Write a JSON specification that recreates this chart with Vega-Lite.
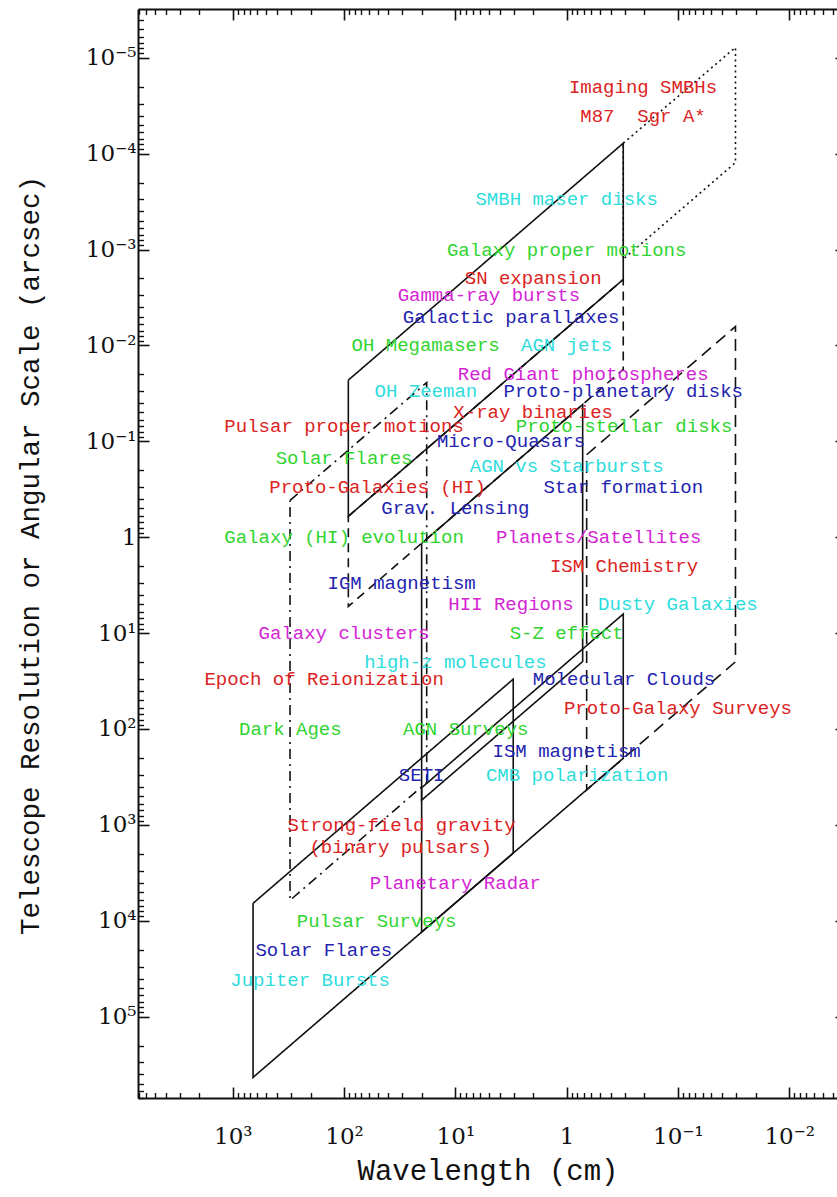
{
  "$schema": "https://vega.github.io/schema/vega-lite/v6.json",
  "width": 699,
  "height": 1089,
  "autosize": {"type": "none"},
  "padding": {"left": 138, "top": 9, "right": 0, "bottom": 99},
  "background": "white",
  "config": {
    "view": {"stroke": null},
    "axis": {"grid": false, "domainColor": "#111", "tickColor": "#111", "labelColor": "#111", "titleColor": "#111"}
  },
  "datasets": {
    "outlines": [
      {"id": "A", "k": 1, "wavelength": 658, "resolution": 6580},
      {"id": "A", "k": 2, "wavelength": 3.02, "resolution": 30.2},
      {"id": "A", "k": 3, "wavelength": 3.02, "resolution": 1970},
      {"id": "A", "k": 4, "wavelength": 658, "resolution": 430000},
      {"id": "A", "k": 5, "wavelength": 658, "resolution": 6580},
      {"id": "B", "k": 1, "wavelength": 20.1, "resolution": 410},
      {"id": "B", "k": 2, "wavelength": 0.31, "resolution": 6.32},
      {"id": "B", "k": 3, "wavelength": 0.31, "resolution": 202},
      {"id": "B", "k": 4, "wavelength": 20.1, "resolution": 13100},
      {"id": "B", "k": 5, "wavelength": 20.1, "resolution": 410},
      {"id": "C", "k": 1, "wavelength": 20.1, "resolution": 1.16},
      {"id": "C", "k": 2, "wavelength": 0.718, "resolution": 0.0413},
      {"id": "C", "k": 3, "wavelength": 0.718, "resolution": 19.8},
      {"id": "C", "k": 4, "wavelength": 20.1, "resolution": 553},
      {"id": "C", "k": 5, "wavelength": 20.1, "resolution": 1.16},
      {"id": "D", "k": 1, "wavelength": 91.6, "resolution": 0.023},
      {"id": "D", "k": 2, "wavelength": 0.31, "resolution": 0.0000778},
      {"id": "D", "k": 3, "wavelength": 0.31, "resolution": 0.00205},
      {"id": "D", "k": 4, "wavelength": 91.6, "resolution": 0.605},
      {"id": "D", "k": 5, "wavelength": 91.6, "resolution": 0.023},
      {"id": "E", "k": 1, "wavelength": 0.31, "resolution": 0.0000778},
      {"id": "E", "k": 2, "wavelength": 0.0304, "resolution": 0.0000078},
      {"id": "E", "k": 3, "wavelength": 0.0304, "resolution": 0.000124},
      {"id": "E", "k": 4, "wavelength": 0.31, "resolution": 0.00126},
      {"id": "E", "k": 5, "wavelength": 0.31, "resolution": 0.0000778},
      {"id": "F", "k": 1, "wavelength": 91.6, "resolution": 0.605},
      {"id": "F", "k": 2, "wavelength": 0.31, "resolution": 0.00205},
      {"id": "F", "k": 3, "wavelength": 0.31, "resolution": 0.0178},
      {"id": "F", "k": 4, "wavelength": 91.6, "resolution": 5.27},
      {"id": "F", "k": 5, "wavelength": 91.6, "resolution": 0.605},
      {"id": "G", "k": 1, "wavelength": 0.661, "resolution": 0.138},
      {"id": "G", "k": 2, "wavelength": 0.0304, "resolution": 0.00635},
      {"id": "G", "k": 3, "wavelength": 0.0304, "resolution": 19.9},
      {"id": "G", "k": 4, "wavelength": 0.661, "resolution": 432},
      {"id": "G", "k": 5, "wavelength": 0.661, "resolution": 0.138},
      {"id": "H", "k": 1, "wavelength": 306, "resolution": 0.413},
      {"id": "H", "k": 2, "wavelength": 18.1, "resolution": 0.0244},
      {"id": "H", "k": 3, "wavelength": 18.1, "resolution": 361},
      {"id": "H", "k": 4, "wavelength": 306, "resolution": 6110},
      {"id": "H", "k": 5, "wavelength": 306, "resolution": 0.413}
    ],
    "topics": [
      {"label": "Imaging SMBHs", "wavelength": 0.206, "resolution": 0.00002, "group": "r"},
      {"label": "M87\u00a0\u00a0Sgr A*", "wavelength": 0.206, "resolution": 0.00004, "group": "r"},
      {"label": "SMBH maser disks", "wavelength": 1, "resolution": 0.0003, "group": "c"},
      {"label": "Galaxy proper motions", "wavelength": 1, "resolution": 0.001, "group": "g"},
      {"label": "SN expansion", "wavelength": 2, "resolution": 0.002, "group": "r"},
      {"label": "Gamma-ray bursts", "wavelength": 5, "resolution": 0.003, "group": "m"},
      {"label": "Galactic parallaxes", "wavelength": 3.16, "resolution": 0.005, "group": "b"},
      {"label": "OH Megamasers", "wavelength": 18.5, "resolution": 0.01, "group": "g"},
      {"label": "AGN jets", "wavelength": 1, "resolution": 0.01, "group": "c"},
      {"label": "Red Giant photospheres", "wavelength": 0.71, "resolution": 0.02, "group": "m"},
      {"label": "OH Zeeman", "wavelength": 18.4, "resolution": 0.03, "group": "c"},
      {"label": "Proto-planetary disks", "wavelength": 0.31, "resolution": 0.03, "group": "b"},
      {"label": "X-ray binaries", "wavelength": 2, "resolution": 0.05, "group": "r"},
      {"label": "Pulsar proper motions", "wavelength": 100, "resolution": 0.07, "group": "r"},
      {"label": "Proto-stellar disks", "wavelength": 0.305, "resolution": 0.07, "group": "g"},
      {"label": "Micro-Quasars", "wavelength": 3.16, "resolution": 0.1, "group": "b"},
      {"label": "Solar Flares", "wavelength": 100, "resolution": 0.15, "group": "g"},
      {"label": "AGN vs Starbursts", "wavelength": 1, "resolution": 0.18, "group": "c"},
      {"label": "Proto-Galaxies (HI)", "wavelength": 50, "resolution": 0.3, "group": "r"},
      {"label": "Star formation", "wavelength": 0.31, "resolution": 0.3, "group": "b"},
      {"label": "Grav. Lensing", "wavelength": 10, "resolution": 0.5, "group": "b"},
      {"label": "Galaxy (HI) evolution", "wavelength": 100, "resolution": 1, "group": "g"},
      {"label": "Planets/Satellites", "wavelength": 0.515, "resolution": 1, "group": "m"},
      {"label": "ISM Chemistry", "wavelength": 0.305, "resolution": 2, "group": "r"},
      {"label": "IGM magnetism", "wavelength": 30.4, "resolution": 3, "group": "b"},
      {"label": "HII Regions", "wavelength": 3.16, "resolution": 5, "group": "m"},
      {"label": "Dusty Galaxies", "wavelength": 0.1, "resolution": 5, "group": "c"},
      {"label": "Galaxy clusters", "wavelength": 100, "resolution": 10, "group": "m"},
      {"label": "S-Z effect", "wavelength": 1, "resolution": 10, "group": "g"},
      {"label": "high-z molecules", "wavelength": 10, "resolution": 20, "group": "c"},
      {"label": "Epoch of Reionization", "wavelength": 151, "resolution": 30, "group": "r"},
      {"label": "Molecular Clouds", "wavelength": 0.305, "resolution": 30, "group": "b"},
      {"label": "Proto-Galaxy Surveys", "wavelength": 0.1, "resolution": 60, "group": "r"},
      {"label": "Dark Ages", "wavelength": 304, "resolution": 100, "group": "g"},
      {"label": "AGN Surveys", "wavelength": 8.07, "resolution": 100, "group": "g"},
      {"label": "ISM magnetism", "wavelength": 1, "resolution": 170, "group": "b"},
      {"label": "SETI", "wavelength": 20.1, "resolution": 300, "group": "b"},
      {"label": "CMB polarization", "wavelength": 0.805, "resolution": 300, "group": "c"},
      {"label": "Strong-field gravity", "wavelength": 30.4, "resolution": 1000, "group": "r"},
      {"label": "(binary pulsars)", "wavelength": 31, "resolution": 1700, "group": "r"},
      {"label": "Planetary Radar", "wavelength": 10, "resolution": 4000, "group": "m"},
      {"label": "Pulsar Surveys", "wavelength": 51, "resolution": 10000, "group": "g"},
      {"label": "Solar Flares", "wavelength": 152, "resolution": 20000, "group": "b"},
      {"label": "Jupiter Bursts", "wavelength": 202, "resolution": 41000, "group": "c"}
    ]
  },
  "resolve": {"axis": {"x": "independent", "y": "independent"}},
  "layer": [
    {
      "data": {"name": "outlines"},
      "transform": [{"filter": "datum.id == 'F' || datum.id == 'G'"}],
      "mark": {"type": "line", "strokeWidth": 1.6, "color": "#111"},
      "encoding": {
        "x": {
          "field": "wavelength", "type": "quantitative",
          "scale": {"type": "log", "domain": [0.00372, 7112], "reverse": true, "nice": false},
          "axis": {
            "orient": "bottom",
            "values": [1000, 100, 10, 1, 0.1, 0.01],
            "tickSize": -11, "tickWidth": 1.6, "domainWidth": 2,
            "labelFont": "DejaVu Serif", "labelFontSize": 23, "labelPadding": 38,
            "labelFlush": false, "labelOverlap": false, "labelBound": false,
            "labelExpr": "datum.value == 1 ? '1' : '10' + (datum.value < 1 ? '⁻' : '') + ['⁰','¹','²','³','⁴','⁵'][abs(round(log(datum.value) / LN10))]",
            "title": "Wavelength (cm)",
            "titleFont": "Liberation Mono", "titleFontSize": 29, "titleFontWeight": "normal",
            "titleY": 72, "titleBaseline": "middle"
          }
        },
        "y": {
          "field": "resolution", "type": "quantitative",
          "scale": {"type": "log", "domain": [0.0000031, 705000], "reverse": true, "nice": false},
          "axis": {
            "orient": "left",
            "values": [0.00001, 0.0001, 0.001, 0.01, 0.1, 1, 10, 100, 1000, 10000, 100000],
            "tickSize": -11, "tickWidth": 1.6, "domainWidth": 2,
            "labelFont": "DejaVu Serif", "labelFontSize": 23, "labelPadding": 13,
            "labelAlign": "right", "labelBaseline": "middle",
            "labelFlush": false, "labelOverlap": false, "labelBound": false,
            "labelExpr": "datum.value == 1 ? '1' : '10' + (datum.value < 1 ? '⁻' : '') + ['⁰','¹','²','³','⁴','⁵'][abs(round(log(datum.value) / LN10))]",
            "title": "Telescope Resolution or Angular Scale (arcsec)",
            "titleFont": "Liberation Mono", "titleFontSize": 27.5, "titleFontWeight": "normal",
            "titleX": -108, "titleY": 546, "titleAlign": "center", "titleBaseline": "middle", "titleAngle": -90
          }
        },
        "detail": {"field": "id"},
        "order": {"field": "k"},
        "strokeDash": {
          "field": "id", "type": "nominal", "legend": null,
          "scale": {
            "domain": ["A", "B", "C", "D", "E", "F", "G", "H"],
            "range": [[1, 0], [1, 0], [1, 0], [1, 0], [2, 3.5], [9, 6], [12, 7], [10, 5, 2, 5]]
          }
        }
      }
    },
    {
      "data": {"name": "outlines"},
      "transform": [{"filter": "datum.id == 'E' || datum.id == 'H'"}],
      "mark": {"type": "line", "strokeWidth": 1.6, "color": "#111"},
      "encoding": {
        "x": {
          "field": "wavelength", "type": "quantitative",
          "axis": {
            "orient": "bottom",
            "values": [7000, 6000, 5000, 4000, 3000, 2000, 900, 800, 700, 600, 500, 400, 300, 200, 90, 80, 70, 60, 50, 40, 30, 20, 9, 8, 7, 6, 5, 4, 3, 2, 0.9, 0.8, 0.7, 0.6, 0.5, 0.4, 0.3, 0.2, 0.09, 0.08, 0.07, 0.06, 0.05, 0.04, 0.03, 0.02, 0.009, 0.008, 0.007, 0.006, 0.005, 0.004],
            "tickSize": -5.5, "tickWidth": 1.4, "labels": false, "domain": false, "title": null
          }
        },
        "y": {
          "field": "resolution", "type": "quantitative",
          "axis": {
            "orient": "left",
            "values": [0.000004, 0.000005, 0.000006, 0.000007, 0.000008, 0.000009, 0.00002, 0.00003, 0.00004, 0.00005, 0.00006, 0.00007, 0.00008, 0.00009, 0.0002, 0.0003, 0.0004, 0.0005, 0.0006, 0.0007, 0.0008, 0.0009, 0.002, 0.003, 0.004, 0.005, 0.006, 0.007, 0.008, 0.009, 0.02, 0.03, 0.04, 0.05, 0.06, 0.07, 0.08, 0.09, 0.2, 0.3, 0.4, 0.5, 0.6, 0.7, 0.8, 0.9, 2, 3, 4, 5, 6, 7, 8, 9, 20, 30, 40, 50, 60, 70, 80, 90, 200, 300, 400, 500, 600, 700, 800, 900, 2000, 3000, 4000, 5000, 6000, 7000, 8000, 9000, 20000, 30000, 40000, 50000, 60000, 70000, 80000, 90000, 200000, 300000, 400000, 500000, 600000, 700000],
            "tickSize": -5.5, "tickWidth": 1.4, "labels": false, "domain": false, "title": null
          }
        },
        "detail": {"field": "id"},
        "order": {"field": "k"},
        "strokeDash": {"field": "id", "type": "nominal", "legend": null}
      }
    },
    {
      "data": {"name": "outlines"},
      "transform": [{"filter": "indexof(['A','B','C','D'], datum.id) >= 0"}],
      "mark": {"type": "line", "strokeWidth": 1.6, "color": "#111"},
      "encoding": {
        "x": {
          "field": "wavelength", "type": "quantitative",
          "axis": {
            "orient": "top",
            "values": [1000, 100, 10, 1, 0.1, 0.01],
            "tickSize": -11, "tickWidth": 1.6, "domainWidth": 2, "labels": false, "title": null
          }
        },
        "y": {
          "field": "resolution", "type": "quantitative",
          "axis": {
            "orient": "right", "offset": 9,
            "values": [0.00001, 0.0001, 0.001, 0.01, 0.1, 1, 10, 100, 1000, 10000, 100000],
            "tickSize": -11, "tickWidth": 1.6, "domainWidth": 2, "labels": false, "title": null
          }
        },
        "detail": {"field": "id"},
        "order": {"field": "k"},
        "strokeDash": {"field": "id", "type": "nominal", "legend": null}
      }
    },
    {
      "data": {"name": "topics"},
      "mark": {"type": "text", "font": "Liberation Mono", "fontSize": 19, "align": "center", "baseline": "middle"},
      "encoding": {
        "x": {
          "field": "wavelength", "type": "quantitative",
          "axis": {
            "orient": "top",
            "values": [7000, 6000, 5000, 4000, 3000, 2000, 900, 800, 700, 600, 500, 400, 300, 200, 90, 80, 70, 60, 50, 40, 30, 20, 9, 8, 7, 6, 5, 4, 3, 2, 0.9, 0.8, 0.7, 0.6, 0.5, 0.4, 0.3, 0.2, 0.09, 0.08, 0.07, 0.06, 0.05, 0.04, 0.03, 0.02, 0.009, 0.008, 0.007, 0.006, 0.005, 0.004],
            "tickSize": -5.5, "tickWidth": 1.4, "labels": false, "domain": false, "title": null
          }
        },
        "y": {
          "field": "resolution", "type": "quantitative",
          "axis": {
            "orient": "right", "offset": 9,
            "values": [0.000004, 0.000005, 0.000006, 0.000007, 0.000008, 0.000009, 0.00002, 0.00003, 0.00004, 0.00005, 0.00006, 0.00007, 0.00008, 0.00009, 0.0002, 0.0003, 0.0004, 0.0005, 0.0006, 0.0007, 0.0008, 0.0009, 0.002, 0.003, 0.004, 0.005, 0.006, 0.007, 0.008, 0.009, 0.02, 0.03, 0.04, 0.05, 0.06, 0.07, 0.08, 0.09, 0.2, 0.3, 0.4, 0.5, 0.6, 0.7, 0.8, 0.9, 2, 3, 4, 5, 6, 7, 8, 9, 20, 30, 40, 50, 60, 70, 80, 90, 200, 300, 400, 500, 600, 700, 800, 900, 2000, 3000, 4000, 5000, 6000, 7000, 8000, 9000, 20000, 30000, 40000, 50000, 60000, 70000, 80000, 90000, 200000, 300000, 400000, 500000, 600000, 700000],
            "tickSize": -5.5, "tickWidth": 1.4, "labels": false, "domain": false, "title": null
          }
        },
        "text": {"field": "label"},
        "color": {
          "field": "group", "type": "nominal", "legend": null,
          "scale": {"domain": ["r", "g", "m", "b", "c"], "range": ["#dc2323", "#30d430", "#d424d4", "#2424b0", "#2edcdc"]}
        }
      }
    }
  ]
}
